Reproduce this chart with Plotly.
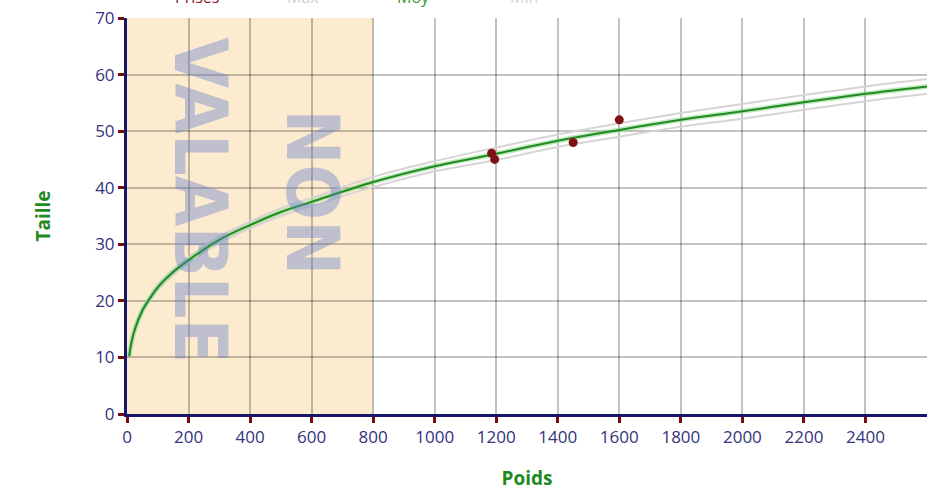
import plotly.graph_objects as go

# ---- data ----
curve_x = [7, 15, 25, 50, 75, 100, 150, 200, 300, 400, 500, 600, 800, 1000,
           1200, 1400, 1600, 1800, 2000, 2200, 2400, 2600]
moy = [10.2, 12.8, 14.9, 18.3, 20.5, 22.4, 25.1, 27.2, 30.8, 33.4, 35.7, 37.5,
       41.0, 43.8, 46.0, 48.3, 50.2, 52.0, 53.5, 55.1, 56.6, 57.9]
maxi = [10.3, 13.0, 15.2, 18.7, 20.9, 22.9, 25.6, 27.7, 31.4, 34.0, 36.4, 38.2,
        41.9, 44.7, 47.1, 49.4, 51.4, 53.2, 54.8, 56.4, 57.9, 59.2]
mini = [10.1, 12.6, 14.6, 17.9, 20.1, 21.9, 24.6, 26.7, 30.2, 32.8, 35.0, 36.8,
        40.1, 42.9, 44.9, 47.2, 49.0, 50.8, 52.2, 53.8, 55.3, 56.6]

prises_poids = [1185, 1195, 1450, 1600]
prises_taille = [46.1, 45.0, 48.0, 52.0]

x_ticks = [0, 200, 400, 600, 800, 1000, 1200, 1400, 1600, 1800, 2000, 2200, 2400]
y_ticks = [0, 10, 20, 30, 40, 50, 60, 70]
x_range = [0, 2600]
y_range = [0, 70]
zone_non_valable = [0, 800]

legend_names = ["Prises", "Max", "Moy", "Min"]

# ---- styles ----
NAVY = "#15156e"
TICKRED = "#7a0a0a"
GREEN = "#1f8a1f"
TICKFONT = dict(family="Open Sans, Noto Sans, sans-serif", size=17, color="#33337d")
TITLEFONT = dict(family="Open Sans, Noto Sans, sans-serif", size=19, color=GREEN)

fig = go.Figure()

fig.add_trace(go.Scatter(x=curve_x, y=maxi, mode="lines", name="Max",
                         line=dict(color="#d8d4d6", width=2, shape="spline"),
                         showlegend=False, hoverinfo="skip"))
fig.add_trace(go.Scatter(x=curve_x, y=mini, mode="lines", name="Min",
                         line=dict(color="#d8d4d6", width=2, shape="spline"),
                         showlegend=False, hoverinfo="skip"))
fig.add_trace(go.Scatter(x=curve_x, y=moy, mode="lines", name="Moy halo",
                         line=dict(color="rgba(140,215,140,0.55)", width=5, shape="spline"),
                         showlegend=False, hoverinfo="skip"))
fig.add_trace(go.Scatter(x=curve_x, y=moy, mode="lines", name="Moy",
                         line=dict(color=GREEN, width=2, shape="spline"),
                         showlegend=False))
fig.add_trace(go.Scatter(x=prises_poids, y=prises_taille, mode="markers", name="Prises",
                         marker=dict(color="#7e1212", size=9),
                         showlegend=False))

# zone "non valable"
fig.add_shape(type="rect", xref="x", yref="y",
              x0=zone_non_valable[0], x1=zone_non_valable[1],
              y0=y_range[0], y1=y_range[1],
              fillcolor="#fdebd0", line=dict(width=0), layer="below")

wm_font = dict(family="Liberation Sans Narrow, DejaVu Sans Condensed, Liberation Sans, sans-serif",
               size=73, color="rgba(90,120,200,0.38)")
fig.add_annotation(x=240, y=37.8, xref="x", yref="y", text="<b>VALABLE</b>", showarrow=False,
                   textangle=90, font=wm_font)
fig.add_annotation(x=604, y=39.2, xref="x", yref="y", text="<b>NON</b>", showarrow=False,
                   textangle=90, font=wm_font)

# legend remnant at the very top (cut off as in the reference)
leg_colors = ["#8b1a1a", "#cfcfcf", "#2e9a2e", "#d4d4d4"]
leg_px = [196, 302, 413, 523]
for name, col, px in zip(legend_names, leg_colors, leg_px):
    fig.add_annotation(x=(px - 126) / 801, y=1.052, xref="paper", yref="paper",
                       text=name, showarrow=False, xanchor="center", yanchor="middle",
                       font=dict(family="Open Sans, Noto Sans, sans-serif", size=16, color=col))

grid_col = "rgba(0,0,0,0.24)"
fig.update_xaxes(range=x_range, tickvals=x_ticks, showgrid=True, gridcolor=grid_col,
                 gridwidth=1.6, zeroline=False, showline=True, linecolor=NAVY, linewidth=3,
                 ticks="outside", ticklen=6, tickwidth=3, tickcolor=TICKRED,
                 tickfont=TICKFONT, automargin=False,
                 title=dict(text="<b>Poids</b>", font=TITLEFONT, standoff=26))
fig.update_yaxes(range=y_range, tickvals=y_ticks, showgrid=True, gridcolor=grid_col,
                 gridwidth=1.6, zeroline=False, showline=True, linecolor=NAVY, linewidth=3,
                 ticks="outside", ticklen=6, tickwidth=3, tickcolor=TICKRED,
                 tickfont=TICKFONT, automargin=False,
                 title=dict(text="<b>Taille</b>", font=TITLEFONT, standoff=40))

fig.update_layout(width=935, height=491,
                  margin=dict(l=127, r=8, t=18, b=77),
                  paper_bgcolor="white", plot_bgcolor="white",
                  showlegend=False)

fig.write_html("out.html", config={"displayModeBar": False},
               post_script="document.body.style.margin='0';document.body.style.overflow='hidden';")
